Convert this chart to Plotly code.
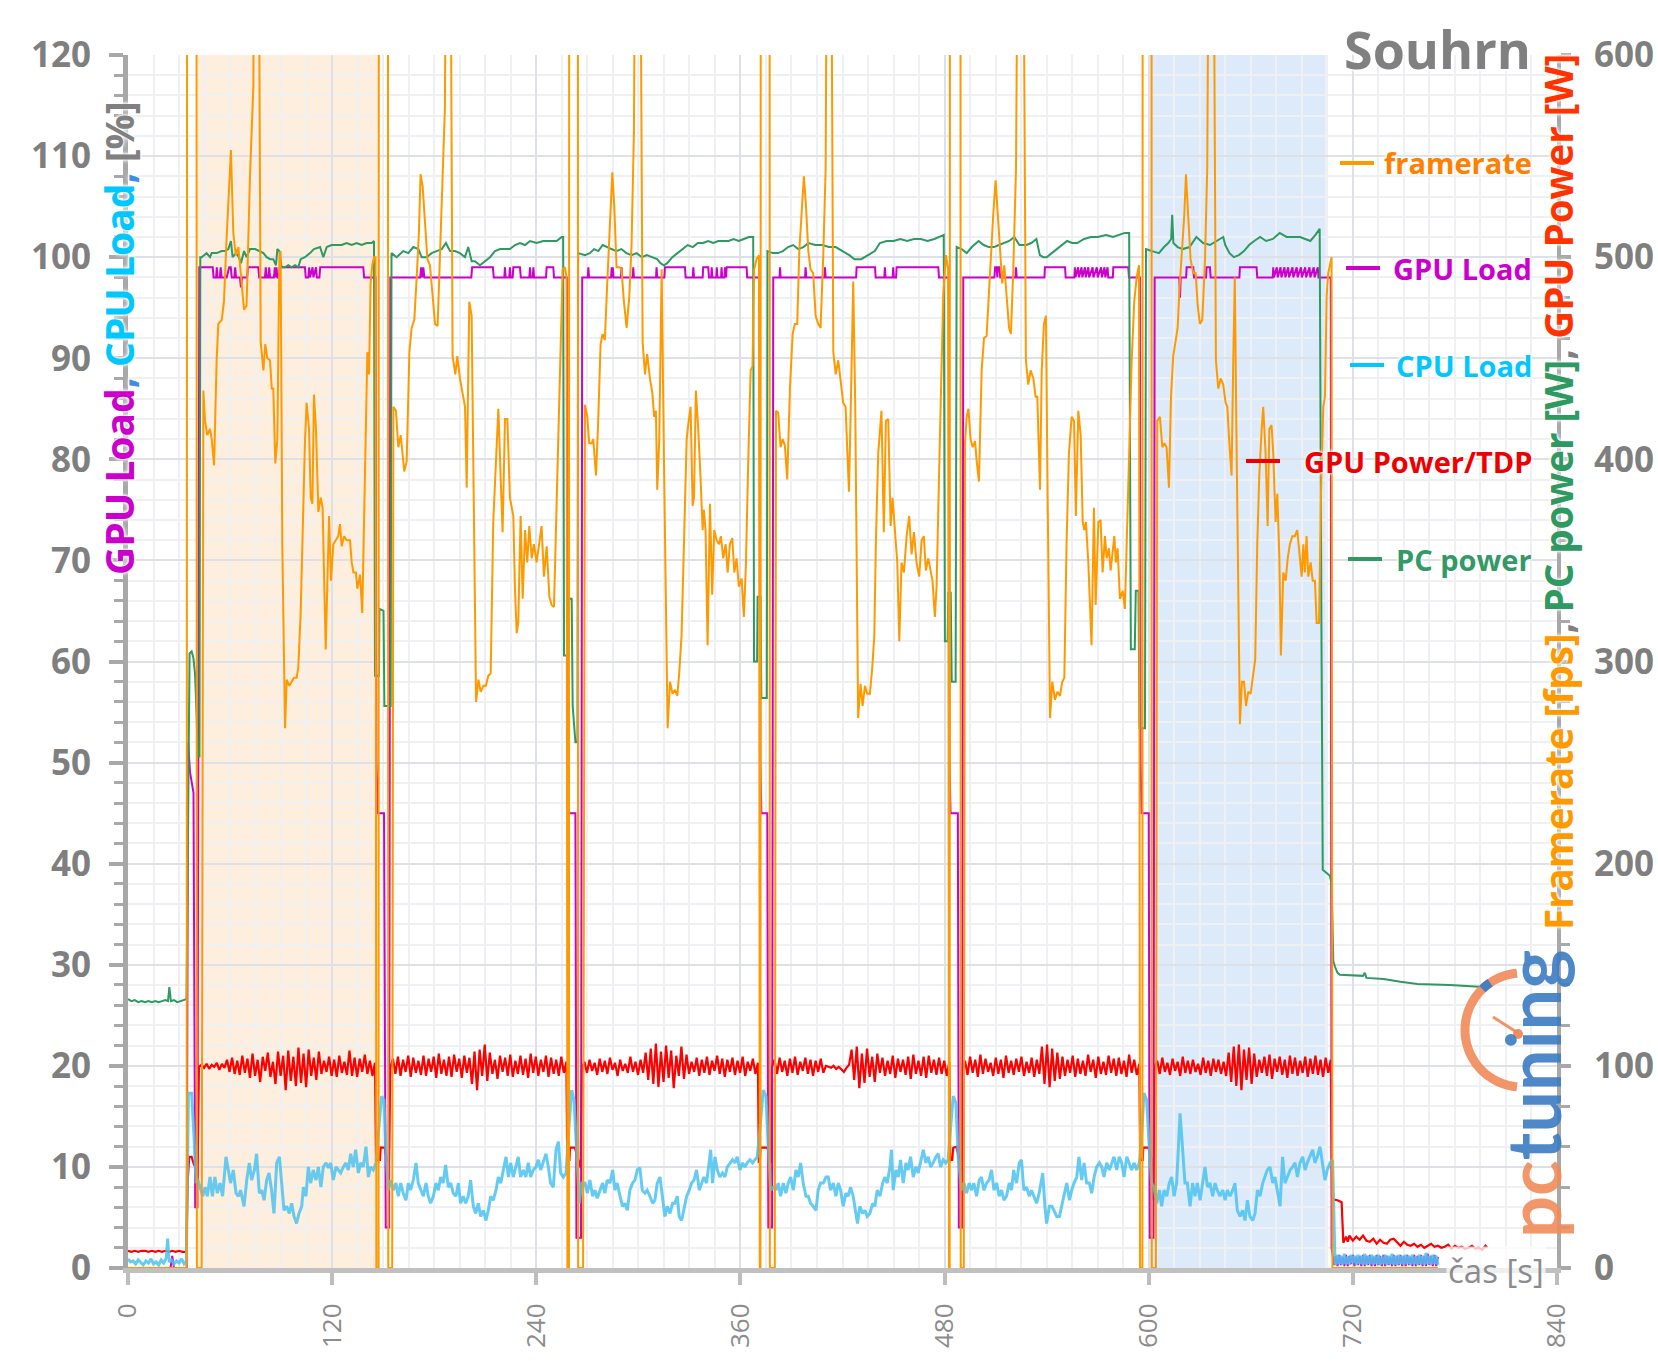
import numpy as np
import plotly.graph_objects as go

# ------------------------------------------------------------------ data
# framerate [fps] (right axis)
fps_t = [0, 34.5, 35, 40, 40.5, 43.3, 44.3, 45.3, 46.6, 48.2, 49.2, 50.6, 52.1, 53.1, 55.1, 56.4, 58, 59.4, 60.5, 61.9, 63.3, 64.9, 66.4, 68.2, 69.7, 71.7, 73.7, 75.6, 78, 79.6, 80.7, 81.9, 83.5, 84.5, 85.4, 86.6, 87.8, 89, 89.7, 90.7, 92.3, 93.3, 94.8, 96.2, 97.6, 99.1, 100.1, 101.5, 102.7, 104, 105, 106.4, 107.4, 108.4, 109.3, 110.5, 111.9, 113.3, 114.4, 116.2, 118.2, 119.3, 120.7, 122.1, 123.6, 124.6, 125.6, 127, 128.5, 130.5, 131.5, 132.5, 134, 134.8, 136.4, 137.7, 139.3, 140.7, 141.7, 142.6, 143.6, 144.6, 145.5,
         146, 147.3, 147.6, 152.6, 153, 155.3,
         156, 157.5, 158.9, 160.3, 161.5, 162.4, 163.8, 165.4, 166.7, 168.3, 169.7, 171, 172, 173.2, 174.6, 176, 177.5, 179.1, 180.5, 182, 183.4, 184.8, 186.3, 188.3, 190.8, 192.4, 193.6, 195.1, 196.7, 198.1, 199.1, 200.6, 202, 203.4, 204.6, 206, 207.3, 208.9, 210.4, 211.8, 213.2, 214.7, 216.3, 217.7, 219.1, 220.2, 221.6, 223, 224.5, 226.5, 227.5, 228.5, 229.4, 230.8, 232, 233.4, 234.7, 235.9, 237.3, 238.6, 240.2, 241.8, 243.1, 244.5, 246.1, 247.7, 249, 250.4, 252, 253.9, 255.5, 256.9, 257.8,
         258.3, 259.2, 259.5, 264.3, 264.6, 267.5,
         268.6, 270, 271.1, 272.5, 273.5, 275.1, 276.4, 277.8, 279, 280.3, 281.7, 283.3, 284.7, 285.8, 287.2, 288.8, 290.1, 291.5, 293.1, 294.7, 296, 297.4, 299.7, 302.5, 303.9, 305.2, 306.8, 308.2, 309.3, 310.3, 311.1, 312.3, 313.7, 315, 316.2, 317.2, 318.6, 320.1, 321.5, 322.9, 324, 325.4, 326.8, 328.4, 329.3, 330.7, 331.9, 332.7, 333.8, 335.2, 336.6, 337.8, 338.5, 339.5, 340.7, 342.1, 343.4, 344.6, 346, 347.4, 348.5, 349.9, 351.3, 352.5, 353.8, 355.2, 356.4, 357.7, 359.1, 360.7, 362, 363.2, 364.6, 366, 367.1, 368.1, 369.5, 370.9,
         371.4, 371.8, 372.1, 377, 377.3, 380.2,
         380.9, 382.2, 383.6, 384.8, 386.1, 387.5, 389.1, 390.7, 392, 393.4, 394.6, 395.9, 397.3, 398.5, 399.9, 401.2, 402.8, 404.2, 405.7, 407.1, 408.7, 410.1, 412.1, 414.6, 416, 417.5, 418.9, 420.4, 421.8, 422.8, 423.8, 425, 426.3, 427.5, 428.3, 429.2, 430.6, 431.8, 433.2, 434.5, 436.1, 437.5, 438.7, 439.6, 441, 442, 442.9, 444.3, 445.5, 446.9, 448.3, 449.4, 450.8, 452.2, 453.4, 454.7, 456.1, 457.7, 459.2, 460.6, 462, 463.5, 465.1, 466.5, 467.8, 469, 470.4, 471.8, 472.9, 474.3, 475.3, 476.7, 477.8, 479.2, 480.8, 482.1,
         482.6, 483, 483.3, 489.2, 489.5, 491.3,
         492, 493, 494, 495.3, 496.5, 497.9, 498.9, 500.2, 501.8, 503.2, 504.7, 506.1, 507.7, 508.6, 510, 511.2, 512.6, 513.9, 515.1, 516.5, 517.9, 519, 520.4, 522, 524.8, 527.8, 529.2, 530.6, 532.2, 533.5, 534.5, 536.1, 537.1, 538.4, 539.6, 540.6, 542, 543.3, 544.9, 546.3, 547.8, 549.2, 550.4, 551.7, 553.1, 554.7, 556.1, 557.2, 558.6, 560, 561.2, 562.1, 563.1, 564.5, 565.5, 566.4, 567.8, 568.8, 570.4, 571.7, 572.9, 574.3, 575.3, 576.6, 577.6, 578.8, 579.8, 580.7, 581.7, 583.1, 584.7, 586, 587.4, 588.6, 590, 591.5, 592.9, 594.3,
         594.9, 596.3, 596.6, 601.5, 601.8, 604.2,
         605, 606.6, 608, 609.2, 610.5, 611.9, 613.1, 614.4, 615.8, 617, 618, 619.3, 620.9, 621.9, 623.3, 624.6, 626.2, 627.6, 628.8, 630.1, 631.5, 633.1, 634.4, 636.8, 639.5, 640.9, 642.3, 643.8, 645.2, 646.2, 647.4, 648.7, 649.7, 650.6, 651.7, 652.6, 653.6, 654.8, 656, 657.2, 658.5, 659.9, 661.5, 662.6, 663.8, 665, 666.4, 667.3, 668.7, 669.9, 670.9, 672.2, 673.2, 674.6, 675.6, 676.8, 677.7, 679.1, 680.5, 681.7, 683, 684.4, 685.9, 687.3, 688.9, 689.9, 690.9, 691.8, 692.8, 693.8, 695.2, 696.4, 697.7, 698.7, 700.1, 701.2, 702.6, 703.6, 704.6, 705.5, 706.5, 707.5,
         708, 770]
fps_v = [0, 0, 1500, 1500, 0, 0, 434, 419, 412, 415, 410, 397, 449, 467, 469, 478, 510, 533, 553, 512, 501, 505, 492, 474, 476, 540, 585, 900, 458, 444, 457, 450, 449, 435, 435, 398, 410, 501, 503, 358, 267, 291, 288, 290, 292, 292, 297, 324, 369, 408, 428, 415, 381, 378, 432, 415, 374, 381, 376, 306, 372, 340, 358, 360, 362, 368, 357, 362, 360, 360, 349, 344, 344, 336, 343, 324, 392, 453, 442, 487, 496, 500, 500,
         0, 0, 1500, 1500, 0, 0,
         426, 424, 406, 412, 403, 394, 399, 453, 465, 469, 490, 512, 541, 535, 517, 499, 496, 481, 467, 466, 499, 540, 574, 900, 451, 442, 451, 440, 433, 426, 386, 478, 471, 381, 280, 291, 285, 288, 288, 293, 294, 369, 403, 425, 390, 364, 420, 420, 381, 372, 335, 314, 319, 372, 331, 365, 349, 367, 351, 358, 349, 360, 367, 342, 357, 332, 328, 327, 381, 431, 494, 495, 490,
         0, 0, 1500, 1500, 0, 0,
         427, 421, 408, 408, 410, 392, 419, 457, 462, 459, 487, 517, 542, 526, 495, 495, 494, 478, 465, 481, 506, 562, 900, 458, 442, 452, 440, 433, 421, 424, 385, 410, 494, 403, 335, 267, 290, 284, 286, 283, 294, 313, 358, 410, 417, 426, 377, 381, 434, 415, 390, 365, 375, 365, 308, 378, 333, 365, 360, 358, 362, 351, 358, 344, 358, 361, 344, 351, 337, 341, 322, 347, 399, 444, 446, 494, 499, 501,
         0, 0, 1500, 1500, 0, 0,
         424, 423, 406, 410, 407, 390, 435, 462, 467, 467, 503, 521, 540, 526, 503, 494, 492, 471, 467, 465, 501, 544, 900, 453, 442, 449, 440, 428, 426, 408, 384, 431, 488, 426, 358, 272, 289, 278, 288, 284, 284, 297, 313, 358, 403, 412, 424, 364, 419, 420, 367, 381, 367, 349, 310, 349, 344, 362, 372, 353, 364, 349, 342, 360, 362, 345, 351, 344, 340, 322, 337, 390, 433, 481, 501, 494,
         0, 0, 1500, 1500, 0, 0,
         408, 421, 425, 410, 406, 409, 399, 389, 444, 460, 461, 485, 508, 521, 538, 521, 501, 487, 496, 481, 465, 462, 494, 544, 900, 449, 437, 444, 440, 431, 431, 385, 444, 467, 471, 381, 272, 290, 281, 285, 283, 290, 292, 358, 403, 421, 419, 372, 424, 412, 369, 365, 369, 349, 331, 308, 376, 328, 369, 370, 344, 362, 351, 356, 345, 356, 362, 349, 356, 331, 335, 326, 367, 403, 449, 478, 490, 496,
         0, 0, 1500, 1500, 0, 0,
         419, 421, 406, 408, 406, 386, 431, 451, 460, 465, 483, 501, 521, 541, 521, 499, 492, 492, 476, 467, 469, 499, 544, 900, 449, 435, 440, 437, 428, 426, 408, 392, 449, 490, 403, 335, 269, 290, 290, 278, 285, 284, 294, 301, 358, 392, 415, 426, 403, 367, 415, 417, 403, 369, 383, 351, 303, 344, 340, 351, 358, 362, 362, 365, 351, 342, 358, 344, 362, 342, 349, 340, 340, 319, 319, 381, 426, 431, 481, 492, 496, 500,
         0, 0]

# GPU Load [%]
gpu_t = [0, 25, 26, 27, 34.5, 35.3, 36.5, 38.5, 39.5, 40.8, 41.9,
         49.8, 50.3, 51.8, 52.2, 52.6, 54, 54.5, 55, 58, 59.5, 60.4, 61, 62.5, 63, 63.5, 65.8, 66.4, 67, 70, 70.5, 76.6, 77.1, 80.5, 81, 81.5, 82.5, 83, 83.5, 85.8, 86.3, 86.8, 87.3, 87.8, 88.7, 89.2, 104, 104.5, 106, 106.5, 107, 108.5, 109, 110.5, 111, 112.5, 113, 138.3, 138.8, 145.5,
         146, 147, 150.5, 151.5, 153.5,
         154.2, 171.8, 172.3, 173, 173.6, 174.2, 201.8, 202.3, 214.5, 215, 221.2, 221.6, 222, 224.1, 224.5, 224.9, 226.1, 226.5, 230.4, 230.9, 235.9, 236.3, 236.7, 237.9, 238.3, 238.7, 245.7, 246.1, 250, 250.4, 258,
         258.6, 259.3, 263, 263.6, 266.3,
         267, 270.3, 270.6, 271, 284, 284.3, 284.7, 285, 285.4, 289.8, 290.1, 290.5, 296.7, 297, 297.4, 310.4, 310.7, 311.1, 315.3, 315.6, 327.4, 327.8, 332, 332.3, 332.7, 337.8, 338.1, 341.1, 341.5, 342.8, 343.1, 343.5, 345.8, 346.1, 346.5, 348.6, 348.9, 349.3, 350.6, 350.9, 351.3, 351.6, 351.9, 363.6, 364, 371.3,
         371.7, 372.3, 375.8, 376.4, 378.6,
         379.3, 383, 383.3, 383.6, 398, 398.3, 398.7, 409.4, 409.7, 410.1, 428, 428.3, 439.1, 439.5, 444.6, 444.9, 445.3, 449.5, 449.8, 450.2, 451.5, 451.8, 476.3, 476.7, 482.5,
         482.9, 483.5, 487.8, 488.4, 490.3,
         491, 509.3, 509.7, 510.6, 511, 511.4, 512.3, 512.7, 521.7, 522, 522.4, 538.7, 539, 550.8, 551.2, 556.3, 556.6, 557, 558.5, 559, 560.5, 561, 562.5, 563, 564.5, 565, 567, 567.5, 569.5, 570, 572, 572.5, 574, 574.5, 575.8, 576.2, 578.9, 579.2, 588, 588.4, 594.8,
         595.2, 595.8, 600, 600.6, 602.8,
         603.5, 618, 618.4, 618.8, 622, 622.3, 626.2, 626.6, 633.7, 634, 636, 636.4, 653.3, 653.6, 663.4, 663.8, 672.9, 673.2, 673.6, 675.3, 675.8, 677.5, 678, 679.8, 680.3, 682, 682.5, 684.5, 685, 687, 687.5, 689.5, 690, 692, 692.5, 694.5, 695, 697, 697.5, 699.4, 699.8, 707,
         707.5, 709]
gpu_v = [0, 0, 1.2, 0, 0, 52, 49, 47, 6, 6, 99,
         99, 98, 98, 99, 98, 98, 99, 98, 98, 99, 99, 98, 98, 99, 98, 98, 97, 98, 98, 99, 99, 98, 98, 99, 98, 98, 99, 98, 98, 99, 98, 99, 98, 98, 99, 99, 98, 98, 99, 98, 99, 98, 99, 98, 98, 99, 99, 98, 98,
         50, 45, 45, 4, 4,
         98, 98, 99, 98, 99, 98, 98, 99, 99, 98, 98, 99, 98, 98, 99, 98, 98, 99, 99, 98, 98, 99, 98, 98, 99, 98, 98, 99, 99, 98, 98,
         50, 45, 45, 3, 3,
         98, 98, 99, 98, 98, 99, 98, 99, 98, 98, 99, 98, 98, 99, 98, 98, 99, 98, 98, 99, 99, 98, 98, 99, 98, 98, 99, 99, 98, 98, 99, 98, 98, 99, 98, 98, 99, 98, 98, 99, 98, 98, 99, 99, 98, 98,
         50, 45, 45, 4, 4,
         98, 98, 99, 98, 98, 99, 98, 98, 99, 98, 98, 99, 99, 98, 98, 99, 98, 98, 99, 98, 98, 99, 99, 98, 98,
         50, 45, 45, 4, 4,
         98, 98, 99, 99, 98, 99, 99, 98, 98, 99, 98, 98, 99, 99, 98, 98, 99, 98, 99, 98, 99, 98, 99, 98, 99, 98, 99, 98, 99, 98, 99, 98, 99, 98, 99, 98, 98, 99, 99, 98, 98,
         50, 45, 45, 3, 3,
         98, 98, 96, 98, 98, 99, 99, 98, 98, 99, 99, 98, 98, 99, 99, 98, 98, 99, 98, 99, 98, 99, 98, 99, 98, 99, 98, 99, 98, 99, 98, 99, 98, 99, 98, 99, 98, 99, 98, 99, 98, 98,
         2, 0.3]
gpu_tail_v = [1.2, 0.2, 1.3, 0.3, 1.1, 0.2, 1.3, 0.2, 1.2, 0.4, 1.3, 0.2, 1.1, 0.3, 1.2, 0.2, 1.3, 0.2, 1.2, 0.3,
              1.3, 0.2, 1.1, 0.2, 1.3, 0.3, 1.2, 0.2, 1.3, 0.2, 1.2, 0.3, 1.1, 0.2, 1.3, 0.2, 1.2, 0.3, 1.3, 0.2,
              1.2, 0.2, 1.3, 0.3, 1.1, 0.2, 1.3, 0.2, 1.2, 0.3, 1.3, 0.2, 1.2, 0.2, 1.4, 0.3, 1.2, 0.2, 1.3, 0.2, 1.1]

# CPU Load [%]
cpu_t = [0, 1.5, 3, 4.5, 6, 7.5, 9, 10.5, 12, 13.5, 15, 16.5, 18, 19.5, 21, 22.5, 23.3, 24.2, 25.5, 27, 28.5, 30, 31.5, 33, 34.3,
         35.5, 37.4, 38.8, 40, 41,
         42.3, 43.9, 45.3, 46.6, 48.2, 49.6, 51.1, 52.5, 54.1, 55.6, 57.6, 59, 60.3, 61.9, 63.5, 64.9, 66.2, 68.2, 69.8, 71.3, 72.7, 74.3, 75.6, 77.2, 78.6, 80, 81.5, 82.9, 84.4, 85.8, 87.4, 89, 90.3, 91.7, 93.3, 94.8, 96.2, 97.6, 99.1, 100.5, 102.1, 103.1, 104.6, 106, 107.4, 108.9, 110.5, 111.9, 113.4, 114.8, 116.4, 117.8, 119.1, 120.7, 122.3, 123.6, 125, 126.6, 128.1, 129.5, 130.9, 132.4, 133.8, 135.4, 136.8, 138.3, 139.9, 141.3, 142.6, 144.2, 145.8,
         147.5, 149.1, 150.5, 151.6, 153, 154.4,
         156, 157.5, 158.9, 160.3, 161.8, 163.4, 164.8, 166.1, 167.7, 169.3, 170.6, 172, 173.6, 175.2, 176.5, 177.9, 179.5, 181, 182.4, 183.8, 185.3, 186.7, 188.3, 189.7, 191.2, 192.8, 194.2, 195.5, 197.1, 198.5, 200, 201.4, 203, 204.4, 205.9, 207.3, 208.9, 210.4, 211.8, 213.2, 214.7, 216.3, 217.7, 219.1, 220.6, 222.2, 223.6, 224.9, 226.5, 228.1, 229.4, 230.8, 232.4, 233.9, 235.3, 236.7, 238.2, 239.8, 241.2, 242.6, 244.1, 245.7, 247.1, 248.4, 250, 251.6, 253, 254.3, 255.9, 257.5,
         259.2, 260.8, 262.2, 263.7, 265.3, 266.7,
         268.6, 270, 271.5, 273.1, 274.5, 275.8, 277.4, 279, 280.3, 281.7, 283.3, 284.9, 286.2, 287.6, 289.2, 290.7, 292.1, 293.5, 295, 296.6, 298, 299.4, 300.9, 302.3, 303.9, 305.2, 306.8, 308.4, 309.7, 311.1, 312.7, 314.1, 315.6, 317, 318.6, 320.1, 321.5, 322.9, 324, 325.4, 326.8, 328.4, 329.9, 331.3, 332.7, 334.2, 335.8, 337.2, 338.5, 340.1, 341.7, 342.5, 343.6, 345, 346.4, 347.9, 349.5, 350.9, 352.3, 353.8, 355.4, 356.8, 358.1, 359.7, 361.3, 362.6, 364, 365.6, 367.1, 368.5, 369.9,
         371.6, 373.4, 375, 376.3, 377.7,
         379.3, 380.9, 382.2, 383.6, 385.2, 386.7, 388.1, 389.5, 391.1, 392.6, 394, 395.4, 396.9, 398.5, 399.9, 401.2, 402.8, 404.4, 405.7, 407.1, 408.7, 410.3, 411.6, 413, 414.6, 416.1, 417.5, 418.9, 420.4, 422, 423.4, 424.7, 426.3, 427.9, 428.8, 430.2, 431.8, 433.2, 434.5, 436.1, 437.7, 439, 440.4, 442, 443.6, 444.9, 446.3, 447.9, 448.8, 449.8, 451.4, 452.8, 454.1, 455.7, 457.3, 458.6, 460, 461.6, 463.1, 464.5, 465.9, 467.5, 469, 470.4, 471.8, 473.3, 474.9, 476.3, 477.6, 479.2, 480.8, 482.1,
         483.6, 485.1, 486.7, 488, 490,
         491.4, 492.9, 494.5, 495.9, 497.2, 498.8, 500.4, 501.7, 503.1, 504.7, 506.2, 507.6, 509, 510.6, 512.1, 513.5, 514.9, 516.4, 518, 519.4, 520.6, 522.3, 523.9, 525.2, 526.6, 528.2, 529.8, 531.1, 532.5, 534.1, 535.6, 537.7, 539, 540, 541.6, 543, 544.3, 545.9, 547.5, 548.8, 550.2, 551.8, 553.4, 554.7, 556.1, 557.7, 559, 560.6, 562, 563.5, 565.1, 566.5, 567.9, 569.4, 571, 572.4, 573.7, 575.3, 576.9, 578.2, 579.6, 581.2, 582.7, 584.1, 585.5, 587.1, 588.6, 590, 591.4, 592.9, 594.5,
         595.9, 597.2, 598.8, 600.4, 601.7,
         603.1, 604.7, 606.3, 607.6, 609, 610.6, 612.1, 613.5, 614.9, 616.4, 617.4, 618.4, 619.4, 620.4, 621.3, 622.7, 624.3, 625.8, 627.2, 628.6, 630.2, 631.7, 633.1, 634.5, 636, 637.6, 639, 640.3, 641.9, 643.5, 644.9, 646.2, 647.8, 649.4, 650.7, 652.1, 653.7, 655.2, 656.6, 658, 659.5, 661.1, 662.5, 663.9, 665.4, 667, 668.4, 669.7, 671.3, 672.9, 674.2, 675.6, 677.2, 678.7, 680.1, 681.5, 683.1, 684.6, 686, 687.4, 688.9, 690.5, 691.9, 693.2, 694.8, 696.4, 697.7, 699.1, 700.7, 702.2, 703.6, 705, 706.6, 708.1,
         709.5]
cpu_v = [0.9, 0.6, 0.7, 0.4, 0.8, 0.5, 0.3, 0.7, 0.5, 0.9, 0.4, 0.6, 0.3, 0.8, 0.5, 1.0, 2.9, 0.6, 0.8, 0.4, 0.7, 0.5, 0.9, 0.4, 0.6,
         17.3, 17.3, 13.0, 8.4, 8.8,
         8.0, 7.1, 8.0, 7.1, 9.0, 7.1, 9.0, 7.4, 8.4, 7.1, 11.0, 9.4, 8.4, 9.7, 7.4, 7.1, 7.7, 6.1, 8.7, 10.4, 8.7, 9.7, 11.3, 7.4, 7.7, 6.7, 8.7, 9.4, 7.7, 5.4, 10.4, 11.0, 8.4, 5.7, 6.1, 5.4, 6.4, 5.1, 4.4, 5.4, 6.1, 8.0, 7.1, 10.0, 8.4, 9.7, 8.7, 10.0, 8.0, 10.0, 10.4, 9.9, 10.4, 8.7, 10.0, 9.7, 9.4, 10.0, 10.4, 9.7, 11.3, 10.0, 11.7, 9.4, 10.4, 10.0, 12.0, 9.0, 10.0, 9.7, 10.4,
         14.0, 17.0, 16.6, 11.7, 7.7, 8.7,
         7.7, 8.4, 7.1, 8.4, 7.4, 6.7, 8.4, 7.7, 8.7, 10.4, 8.4, 7.7, 7.1, 8.4, 7.1, 6.4, 7.1, 8.4, 7.7, 9.0, 8.4, 10.2, 8.0, 8.4, 7.4, 7.1, 8.4, 6.4, 7.1, 6.4, 7.1, 8.7, 6.1, 5.4, 6.4, 5.1, 5.7, 4.7, 5.7, 7.1, 6.7, 7.7, 9.0, 8.4, 9.7, 11.0, 9.0, 10.4, 9.0, 10.0, 11.0, 9.0, 9.7, 9.0, 10.4, 9.0, 9.7, 10.0, 10.7, 9.7, 10.4, 11.3, 10.0, 8.4, 8.0, 11.7, 12.5, 9.4, 9.0, 9.4,
         14.0, 17.6, 16.6, 11.0, 6.4, 8.4,
         8.4, 7.4, 8.7, 7.1, 7.7, 6.9, 7.7, 8.4, 7.4, 8.7, 8.4, 9.7, 7.7, 8.4, 7.1, 6.1, 6.4, 5.7, 7.7, 8.4, 8.7, 9.7, 9.9, 7.7, 7.4, 7.7, 7.1, 6.4, 6.7, 8.4, 9.0, 7.1, 5.1, 6.1, 5.4, 6.4, 6.4, 7.1, 5.1, 4.7, 5.7, 7.1, 7.7, 8.4, 8.7, 9.7, 7.7, 8.4, 9.0, 8.4, 11.0, 11.7, 8.4, 11.0, 9.7, 9.0, 9.4, 9.0, 10.0, 10.4, 10.7, 10.4, 11.0, 9.7, 10.4, 10.0, 10.4, 10.7, 10.4, 10.7, 11.0,
         14.0, 17.6, 17.0, 13.0, 7.7,
         8.0, 7.7, 8.4, 7.1, 8.4, 7.4, 8.4, 9.0, 7.7, 9.7, 9.0, 10.4, 8.4, 7.1, 7.1, 6.4, 6.1, 5.7, 7.7, 8.4, 8.4, 9.0, 9.0, 7.7, 8.4, 7.1, 8.4, 7.7, 6.1, 7.4, 7.1, 8.0, 7.1, 5.1, 4.4, 6.1, 5.4, 5.7, 5.1, 5.4, 6.4, 6.1, 7.7, 7.1, 8.4, 9.0, 8.4, 10.0, 11.7, 7.7, 9.7, 9.0, 10.7, 8.4, 10.4, 9.7, 11.0, 9.0, 10.0, 9.4, 10.4, 11.7, 10.4, 11.0, 10.0, 10.4, 11.0, 11.3, 10.0, 10.7, 10.4, 10.7,
         14.0, 17.0, 16.3, 11.0, 7.7,
         8.4, 7.4, 8.4, 7.7, 8.4, 7.1, 8.7, 9.0, 7.7, 8.4, 8.7, 9.7, 7.7, 8.4, 7.1, 7.7, 6.7, 7.1, 8.4, 7.7, 9.7, 8.4, 10.4, 10.7, 7.7, 8.0, 7.1, 7.7, 7.1, 6.4, 7.4, 9.4, 6.1, 4.4, 6.1, 6.1, 5.7, 5.1, 5.1, 6.1, 7.1, 8.4, 6.7, 7.7, 8.4, 9.0, 11.0, 8.7, 10.4, 8.4, 8.4, 7.4, 9.0, 10.0, 10.4, 10.0, 9.0, 10.4, 9.7, 10.4, 11.0, 9.7, 11.0, 10.4, 9.0, 11.0, 10.4, 9.7, 10.4, 9.7, 10.4,
         13.3, 17.3, 16.6, 11.7, 8.4,
         8.0, 6.4, 7.7, 6.1, 7.7, 7.1, 8.4, 9.0, 7.1, 8.4, 11.7, 15.3, 13.0, 10.0, 8.4, 8.4, 6.1, 8.4, 7.1, 8.4, 6.7, 8.4, 10.0, 8.0, 8.4, 7.1, 8.4, 7.7, 7.1, 7.7, 6.7, 7.7, 7.1, 7.7, 8.4, 5.7, 5.1, 5.7, 4.7, 6.7, 5.1, 4.7, 5.4, 7.7, 7.1, 8.4, 9.0, 9.7, 10.0, 8.4, 9.0, 7.7, 6.1, 11.0, 8.4, 9.0, 9.7, 10.0, 10.4, 9.0, 10.4, 11.0, 9.7, 10.4, 11.0, 11.7, 10.4, 11.0, 12.0, 10.4, 8.7, 9.7, 10.4, 10.7,
         0.5]
cpu_tail_v = [0.3, 1.3, 0.4, 1.2, 0.3, 1.4, 0.4, 1.1, 0.3, 1.3, 0.5, 1.2, 0.3, 1.3, 0.4, 1.2, 0.3, 1.4, 0.3, 1.2,
              0.4, 1.3, 0.3, 1.2, 0.4, 1.3, 0.3, 1.1, 0.4, 1.3, 0.3, 1.2, 0.4, 1.4, 0.3, 1.2, 0.3, 1.3, 0.4, 1.2,
              0.3, 1.3, 0.4, 1.2, 0.3, 1.3, 0.4, 1.1, 0.3, 1.3, 0.4, 1.2, 0.3, 1.5, 0.4, 1.2, 0.3, 1.3, 0.4, 1.2, 0.3]
tail_t0 = 710

# GPU Power / TDP [%]
tdp_idle_t = [0, 2, 4, 6, 8, 10, 12, 14, 16, 18, 20, 22, 24, 26, 28, 30, 32, 34.3, 35.1, 36.0, 37.4, 38.8, 40.0, 40.8]
tdp_idle_v = [1.7, 1.6, 1.7, 1.6, 1.7, 1.7, 1.6, 1.7, 1.6, 1.7, 1.6, 1.7, 1.6, 1.7, 1.6, 1.7, 1.6, 1.6, 8.7, 11.0, 11.0, 10.2, 10.0, 8.7]
tdp_runs = [
    (41.7, 145.2, [19.9, 20.1, 19.8, 20.2, 19.7, 20.1, 19.9, 20.3, 19.6, 20.2, 19.8, 20.6, 19.4, 20.8, 19.2, 20.5, 19.1, 21.0, 19.3, 20.7, 18.8, 21.2, 19.0, 20.6, 18.4, 20.9, 19.5, 21.3, 18.9, 20.4, 18.2, 21.4, 19.0, 21.0, 17.6, 21.5, 18.5, 20.9, 18.0, 21.8, 18.3, 21.2, 17.9, 21.6, 19.0, 20.8, 18.6, 21.4, 19.2, 20.5, 19.4, 20.9, 19.0, 20.6, 18.9, 21.0, 19.3, 20.4, 19.1, 21.5, 19.0, 20.8, 18.9, 20.7, 19.4, 21.1, 19.2, 20.5, 19.0, 20.3]),
    (154.2, 257.7, [19.8, 20.7, 19.2, 20.9, 19.0, 20.6, 19.4, 21.0, 18.9, 20.8, 19.3, 20.5, 19.1, 21.0, 19.0, 20.7, 19.4, 20.9, 18.8, 21.2, 19.2, 20.6, 19.0, 20.9, 18.9, 21.1, 19.4, 20.7, 18.8, 21.0, 19.3, 20.8, 18.2, 21.4, 17.6, 21.6, 19.0, 22.1, 18.5, 21.3, 19.2, 20.6, 18.7, 21.0, 19.4, 20.8, 19.0, 21.1, 18.9, 20.5, 19.2, 21.0, 19.1, 20.7, 18.8, 21.2, 19.3, 20.9, 19.0, 20.6, 19.4, 21.0, 18.9, 20.8, 19.2, 20.6, 19.0, 20.9, 19.3, 20.4]),
    (266.8, 370.3, [19.8, 20.4, 19.3, 20.6, 19.5, 20.3, 19.1, 20.7, 19.4, 20.5, 19.2, 20.8, 19.6, 20.3, 19.0, 20.6, 19.5, 20.2, 19.3, 20.9, 19.4, 20.4, 19.1, 20.6, 19.3, 21.3, 18.6, 21.7, 18.2, 22.2, 17.9, 21.4, 18.4, 22.0, 18.8, 21.5, 17.8, 21.0, 19.0, 21.9, 18.7, 21.1, 19.2, 20.4, 19.4, 20.8, 19.0, 20.6, 19.3, 20.9, 19.1, 20.5, 19.5, 21.0, 19.2, 20.7, 18.9, 20.6, 19.4, 20.8, 19.1, 20.5, 19.3, 20.9, 19.0, 20.4, 19.5, 20.7, 19.2, 20.3]),
    (378.5, 482.8, [19.9, 20.6, 19.2, 20.8, 19.4, 20.5, 19.0, 20.7, 19.3, 20.9, 19.1, 20.4, 19.5, 20.8, 19.2, 20.6, 19.0, 20.5, 19.4, 20.7, 19.3, 20.0, 19.9, 19.8, 20.0, 19.7, 19.9, 19.6, 19.4, 19.8, 20.1, 21.6, 18.6, 21.9, 17.8, 21.2, 18.3, 21.7, 18.9, 20.9, 18.4, 21.2, 19.3, 20.8, 19.0, 20.5, 19.2, 21.0, 18.8, 20.7, 19.4, 20.6, 19.1, 20.9, 18.7, 21.1, 19.2, 20.5, 19.0, 20.9, 18.8, 21.0, 19.3, 20.6, 19.1, 20.8, 19.2, 20.5, 19.0, 20.4]),
    (490.5, 594.5, [19.8, 20.5, 19.1, 20.9, 19.3, 20.6, 18.9, 21.1, 19.2, 20.7, 19.4, 20.3, 19.0, 20.8, 19.2, 20.6, 18.8, 21.0, 19.3, 20.5, 19.1, 20.7, 19.4, 20.9, 19.0, 20.4, 19.3, 20.8, 18.9, 20.6, 19.2, 21.9, 18.2, 22.1, 17.9, 21.7, 18.5, 21.3, 18.7, 20.9, 19.0, 20.6, 19.3, 21.0, 18.9, 20.7, 19.2, 20.5, 19.0, 21.1, 19.4, 20.6, 18.8, 20.9, 19.2, 20.4, 19.1, 21.0, 19.3, 20.7, 19.0, 20.8, 19.2, 20.5, 18.9, 21.1, 19.3, 20.6, 19.1, 20.2]),
    (603.5, 707.0, [19.9, 20.5, 19.2, 20.8, 19.4, 20.3, 19.1, 20.7, 19.5, 20.4, 19.0, 20.9, 19.3, 20.5, 19.2, 20.6, 19.4, 20.2, 19.1, 20.8, 19.3, 20.5, 19.0, 20.7, 19.4, 20.6, 19.2, 20.4, 19.0, 21.3, 18.4, 21.9, 18.0, 22.1, 17.6, 21.6, 18.6, 21.8, 18.2, 21.2, 18.9, 20.6, 19.3, 20.9, 19.0, 21.1, 18.7, 20.7, 19.4, 20.9, 19.1, 20.6, 18.8, 21.0, 19.2, 20.8, 19.0, 20.5, 19.3, 20.9, 18.9, 20.7, 19.2, 21.0, 19.1, 20.6, 18.9, 20.8, 19.3, 20.6]),
]
tdp_gaps = [
    ([145.8, 148.1, 148.5, 151.0, 152.0, 153.4], [10.7, 10.7, 11.9, 11.9, 10.7, 10.5]),
    ([258.2, 259.5, 259.8, 262.7, 264.1, 266.1], [10.7, 10.7, 11.9, 11.9, 11.0, 9.9]),
    ([370.8, 371.4, 371.8, 376.0, 377.0, 377.8], [10.5, 10.5, 11.9, 11.9, 10.5, 10.5]),
    ([483.3, 484.5, 485.1, 487.0, 488.5, 489.7], [10.7, 10.7, 11.9, 12.0, 10.8, 10.6]),
    ([595.0, 596.5, 596.8, 599.8, 601.7, 602.7, 603.0], [10.7, 10.7, 11.9, 11.9, 10.8, 6.7, 10.5]),
]
tdp_tail_t = [707.8, 711.0, 713.4, 714.4, 716, 717, 718, 720, 722, 724, 726, 728, 730, 732, 734, 736, 738, 740, 742, 744, 746, 748, 750, 752, 754, 756, 758, 760, 762, 764, 766, 768, 770, 772, 774, 776, 778, 780, 782, 784, 786, 788, 790, 792, 794, 796, 798, 799]
tdp_tail_v = [6.8, 6.7, 6.5, 2.5, 3.1, 2.6, 3.2, 2.7, 3.1, 2.8, 3.2, 2.7, 2.6, 2.9, 2.4, 2.8, 2.5, 2.4, 2.8, 2.9, 2.5, 2.2, 2.6, 2.3, 2.2, 2.4, 2.1, 2.3, 2.0, 2.2, 2.4, 2.1, 2.2, 2.0, 2.1, 2.3, 1.9, 2.2, 2.0, 2.1, 1.9, 2.0, 2.2, 1.9, 2.0, 1.8, 2.2, 2.0]

# PC power [W] (right axis)
pc_t = [0, 2, 4, 6, 8, 10, 12, 14, 16, 18, 20, 22, 23.5, 24.3, 25.2, 27, 29, 31, 33, 34.4, 36.2, 37.4, 38.4, 39.4, 40.4, 40.9, 42, 42.5,
        43.3, 46.2, 48.2, 49.2, 52.1, 55.1, 57, 59, 60.5, 61.5, 63.5, 65.2, 66.4, 68.2, 69.7, 71.7, 74.7, 77.2, 79.6, 81.5, 83.5, 85.4, 87, 87.8, 89, 90.3, 92.3, 94.2, 96.2, 98.2, 100.1, 101.5, 104, 107, 109.3, 112.9, 114.8, 116.8, 119.7, 122.6, 125.6, 128.5, 131.5, 134.4, 137.3, 140.3, 143.2, 144.6,
        145.2, 147.5, 147.8, 150.2, 150.7, 154.4,
        154.9, 157.9, 161.8, 164.8, 167.7, 170.7, 172.6, 175.6, 178.5, 181.4, 184.4, 186.9, 189.3, 192.2, 195.1, 198.1, 200, 202, 203.9, 206.9, 209.9, 212.8, 215.7, 218.7, 221.6, 224.5, 227.5, 230.4, 233.4, 236.3, 240.2, 244.1, 248, 252, 254.9, 255.8,
        256.3, 258.5, 258.8, 260.8, 261.4, 263, 264.2,
        264.6, 268.6, 271.5, 274, 276.5, 279, 281.5, 284, 287, 290, 293, 296, 299, 302, 305, 308, 311, 313, 315, 317, 320, 323, 326, 329, 332, 335, 338, 341, 344, 347, 350, 353, 356, 359, 362, 365, 367.5,
        368, 369.8, 370.1, 371.8, 372.3, 375.5,
        375.9, 379, 382, 385, 388, 391, 394, 397, 400, 404, 408, 412, 416, 420, 424, 427, 431, 435, 439, 442, 446, 450, 454, 458, 462, 466, 470, 474, 477, 479.5,
        480.2, 481.8, 482.2, 483.6, 484.2, 486.5,
        487.1, 490, 493, 496, 500, 503, 506, 509, 512, 515, 518, 521, 524, 528, 531, 534, 536, 538, 540, 543, 546, 549, 552, 555, 558, 562, 566, 570, 575, 579, 583, 586, 588.5,
        589.5, 591.8, 592.4, 594, 594.6, 597.8,
        598.4, 602, 606, 609, 611.5, 613.2, 613.8, 614.5, 617, 620, 624, 628, 632, 636, 640, 643.8, 645, 647.5, 650, 653, 656, 659, 662, 665.5, 669, 673, 677, 681, 685, 689, 692, 695, 698, 700.5,
        701.5, 702.3, 706.5, 707.5, 708.5, 709.5, 711, 712.4, 726, 727, 728, 738, 748, 758, 777, 796.6]
pc_w = [133, 132, 132.5, 131.5, 132, 131.5, 132, 131.5, 132, 131.5, 132, 132.5, 132, 139, 132, 132.5, 131.5, 132, 132.5, 133, 304, 305, 302, 294, 272, 253, 253, 500,
        500, 502, 500, 502, 502, 503, 503, 504, 508, 500, 502, 500, 497, 503, 500, 504, 504, 503, 502, 500, 499, 499, 496, 504, 503, 495, 495, 496, 495, 496, 495, 499, 500, 502, 504, 505, 500, 505, 506, 506, 506, 507, 506, 507, 506, 507, 507, 508,
        293, 293, 326, 325, 278, 278,
        502, 500, 503, 502, 505, 504, 500, 500, 502, 503, 504, 507, 503, 503, 502, 500, 505, 498, 498, 496, 498, 500, 503, 504, 504, 504, 506, 507, 506, 508, 507, 508, 508, 508, 510, 510,
        303, 303, 331, 331, 278, 260, 260,
        502, 501, 502, 504, 503, 506, 505, 504, 503, 504, 502, 501, 502, 500, 501, 500, 499, 497, 496, 497, 500, 502, 504, 506, 505, 507, 507, 508, 507, 508, 508, 508, 509, 508, 509, 510, 510,
        300, 300, 332, 332, 282, 282,
        503, 502, 502, 503, 505, 506, 504, 505, 507, 506, 506, 505, 505, 503, 501, 499, 499, 501, 503, 507, 508, 508, 509, 508, 509, 509, 508, 509, 510, 511,
        310, 310, 334, 334, 290, 290,
        505, 504, 502, 505, 508, 506, 505, 505, 506, 507, 508, 510, 506, 506, 507, 509, 501, 500, 500, 502, 504, 506, 508, 507, 507, 509, 510, 510, 511, 510, 511, 512, 512,
        306, 306, 335, 335, 267, 267,
        504, 503, 502, 505, 507, 509, 521, 507, 505, 504, 505, 510, 507, 506, 508, 510, 506, 502, 500, 501, 503, 506, 508, 510, 508, 509, 512, 510, 510, 510, 509, 508, 511, 514,
        320, 197, 194, 190, 152, 149, 146, 145, 144.5, 146, 143.5, 143, 141.6, 140.5, 140, 139]

# shaded intervals [s]
band_orange = (41, 147)
band_blue = (600, 704)

x_ticks = [0, 120, 240, 360, 480, 600, 720, 840]

# ------------------------------------------------------------------ assemble series
tdp_t, tdp_v = list(tdp_idle_t), list(tdp_idle_v)
for i, (t0, t1, vals) in enumerate(tdp_runs):
    tdp_t += list(np.linspace(t0, t1, len(vals)))
    tdp_v += vals
    if i < len(tdp_gaps):
        tdp_t += tdp_gaps[i][0]
        tdp_v += tdp_gaps[i][1]
tdp_t += tdp_tail_t
tdp_v += tdp_tail_v

cpu_all_t = cpu_t + [tail_t0 + k for k in range(len(cpu_tail_v))]
cpu_all_v = cpu_v + cpu_tail_v
gpu_all_t = gpu_t + [tail_t0 + k for k in range(len(gpu_tail_v))]
gpu_all_v = gpu_v + gpu_tail_v

# ------------------------------------------------------------------ figure
W, H = 1658, 1361
L, R, T, B = 128, 101, 55, 93
PW, PH = W - L - R, H - T - B


def px(X):
    return (X - L) / PW


def py(Y):
    return (T + PH - Y) / PH


fig = go.Figure()
fig.add_trace(go.Scatter(x=tdp_t, y=tdp_v, mode="lines", name="GPU Power/TDP",
                         line=dict(color="#ff0000", width=2.2)))
fig.add_trace(go.Scatter(x=gpu_all_t, y=gpu_all_v, mode="lines", name="GPU Load",
                         line=dict(color="#cc00cc", width=2)))
fig.add_trace(go.Scatter(x=cpu_all_t, y=cpu_all_v, mode="lines", name="CPU Load", opacity=0.85,
                         line=dict(color="#4cc3f0", width=3)))
fig.add_trace(go.Scatter(x=pc_t, y=pc_w, mode="lines", name="PC power", yaxis="y2",
                         line=dict(color="#2e9960", width=2)))
fig.add_trace(go.Scatter(x=fps_t, y=fps_v, mode="lines", name="framerate", yaxis="y2",
                         line=dict(color="#ff9900", width=2)))

grid_major = "#dde0e6"
grid_minor = "#eef0f3"
axis_gray = "#a8a8a8"

fig.update_layout(
    width=W, height=H, margin=dict(l=L, r=R, t=T, b=B, autoexpand=False),
    paper_bgcolor="white", plot_bgcolor="white", showlegend=False,
    font=dict(family="Open Sans", color="#808080"),
    xaxis=dict(range=[0, 840], tickvals=x_ticks, ticktext=[str(v) for v in x_ticks], tickangle=-90,
               tickfont=dict(size=26, color="#8c8c8c"), ticks="outside", ticklen=12, tickwidth=4,
               tickcolor="#bdbdbd", ticklabelstandoff=8,
               showgrid=True, gridcolor=grid_major, gridwidth=2,
               minor=dict(dtick=15, tick0=0, showgrid=True, gridcolor=grid_minor, gridwidth=2),
               showline=True, linecolor="#c0c0c0", linewidth=5, zeroline=False, fixedrange=True),
    yaxis=dict(range=[0, 120], dtick=10, tick0=0,
               tickfont=dict(size=35, color="#7f7f7f", weight="bold"),
               ticks="outside", ticklen=14, tickwidth=4, tickcolor=axis_gray, ticklabelstandoff=11,
               showgrid=True, gridcolor=grid_major, gridwidth=2,
               minor=dict(dtick=2, tick0=0, showgrid=True, gridcolor=grid_minor, gridwidth=2,
                          ticks="outside", ticklen=9, tickwidth=3, tickcolor=axis_gray),
               showline=True, linecolor=axis_gray, linewidth=5, zeroline=False),
    yaxis2=dict(range=[0, 600], dtick=100, tick0=0, overlaying="y", side="right",
                tickfont=dict(size=35, color="#7f7f7f", weight="bold"),
                ticks="outside", ticklen=10, tickwidth=4, tickcolor=axis_gray, ticklabelstandoff=16,
                showgrid=False,
                minor=dict(dtick=20, tick0=0, ticks="outside", ticklen=9, tickwidth=3, tickcolor=axis_gray),
                showline=True, linecolor=axis_gray, linewidth=4, zeroline=False),
)

shapes = [
    dict(type="rect", xref="x", yref="paper", x0=band_orange[0], x1=band_orange[1], y0=0, y1=1,
         fillcolor="rgba(249,206,158,0.35)", line=dict(width=0), layer="between"),
    dict(type="rect", xref="x", yref="paper", x0=band_blue[0], x1=band_blue[1], y0=0, y1=1,
         fillcolor="rgba(155,195,241,0.35)", line=dict(width=0), layer="between"),
]

# legend (line samples + labels)
legend_items = [
    ("framerate", "#ff8000", "#ff9900", 1340, 163),
    ("GPU Load", "#cc00cc", "#cc00cc", 1346, 268),
    ("CPU Load", "#00c8ff", "#00c8ff", 1350, 365),
    ("GPU Power/TDP", "#ee0000", "#ee0000", 1246, 461),
    ("PC power", "#339966", "#2e9960", 1348, 559),
]
annotations = []
shadow = "0px 0px 3px white, 0px 0px 3px white, 0px 0px 5px white"
for label, tcol, lcol, x0, yc in legend_items:
    shapes.append(dict(type="line", xref="paper", yref="paper", x0=px(x0), x1=px(x0 + 34),
                       y0=py(yc), y1=py(yc), line=dict(color=lcol, width=4), layer="above"))
    annotations.append(dict(xref="paper", yref="paper", x=px(1534), y=py(yc), xanchor="right", yanchor="middle",
                            text=label, showarrow=False,
                            font=dict(size=29, color=tcol, weight="bold", shadow=shadow)))

# title
annotations.append(dict(xref="paper", yref="paper", x=px(1533), y=py(48), xanchor="right", yanchor="middle",
                        text="Souhrn", showarrow=False,
                        font=dict(size=52, color="#808080", weight="bold", shadow=shadow)))

# axis titles
left_title = ('<span style="color:#cc00cc">GPU Load</span><span style="color:#3a8ee6">, </span>'
              '<span style="color:#00c8ff">CPU Load</span><span style="color:#3a8ee6">, </span>'
              '<span style="color:#808080">[%]</span>')
annotations.append(dict(xref="paper", yref="paper", x=px(119), y=py(338), xanchor="center", yanchor="middle",
                        text=left_title, textangle=-90, showarrow=False,
                        font=dict(size=39, weight="bold", shadow=shadow)))
right_title = ('<span style="color:#ff9900">Framerate [fps]</span><span style="color:#808080">, </span>'
               '<span style="color:#2e9960">PC power [W]</span><span style="color:#808080">, </span>'
               '<span style="color:#ff3300">GPU Power [W]</span>')
annotations.append(dict(xref="paper", yref="paper", x=px(1558), y=py(492), xanchor="center", yanchor="middle",
                        text=right_title, textangle=-90, showarrow=False,
                        font=dict(size=38.5, weight="bold", shadow=shadow)))

# x-axis title
annotations.append(dict(xref="paper", yref="paper", x=px(1496), y=py(1270), xanchor="center", yanchor="middle",
                        text="čas [s]", showarrow=False, bgcolor="rgba(255,255,255,0.75)",
                        font=dict(size=33, color="#8c8c8c")))

# logo
annotations.append(dict(xref="paper", yref="paper", x=px(1532), y=py(1094), xanchor="center", yanchor="middle",
                        text='<span style="color:#f08c5a">pc</span><span style="color:#3d7cc4">tuning</span>',
                        textangle=-90, showarrow=False, opacity=0.9,
                        font=dict(size=74, family="Lato", weight="bold")))
cx, cy, rr = 1522, 1030, 57
ang = np.radians(np.linspace(95, 265, 60))
arc = "M " + " L ".join(f"{px(cx + rr * np.cos(a)):.5f},{py(cy - rr * np.sin(a)):.5f}" for a in ang)
shapes.append(dict(type="path", xref="paper", yref="paper", path=arc,
                   line=dict(color="rgba(240,135,85,0.88)", width=9), layer="above"))
ang2 = np.radians(np.linspace(124, 134, 6))
arc2 = "M " + " L ".join(f"{px(cx + rr * np.cos(a)):.5f},{py(cy - rr * np.sin(a)):.5f}" for a in ang2)
shapes.append(dict(type="path", xref="paper", yref="paper", path=arc2,
                   line=dict(color="rgba(61,124,196,0.95)", width=9), layer="above"))
shapes.append(dict(type="line", xref="paper", yref="paper", x0=px(1518), y0=py(1033), x1=px(1493), y1=py(1017),
                   line=dict(color="rgba(240,135,85,0.9)", width=3), layer="above"))
shapes.append(dict(type="circle", xref="paper", yref="paper", x0=px(1513), x1=px(1523), y0=py(1039), y1=py(1029),
                   fillcolor="rgba(240,135,85,0.95)", line=dict(width=0), layer="above"))

fig.update_layout(shapes=shapes, annotations=annotations)
fig.write_html("out.html")
